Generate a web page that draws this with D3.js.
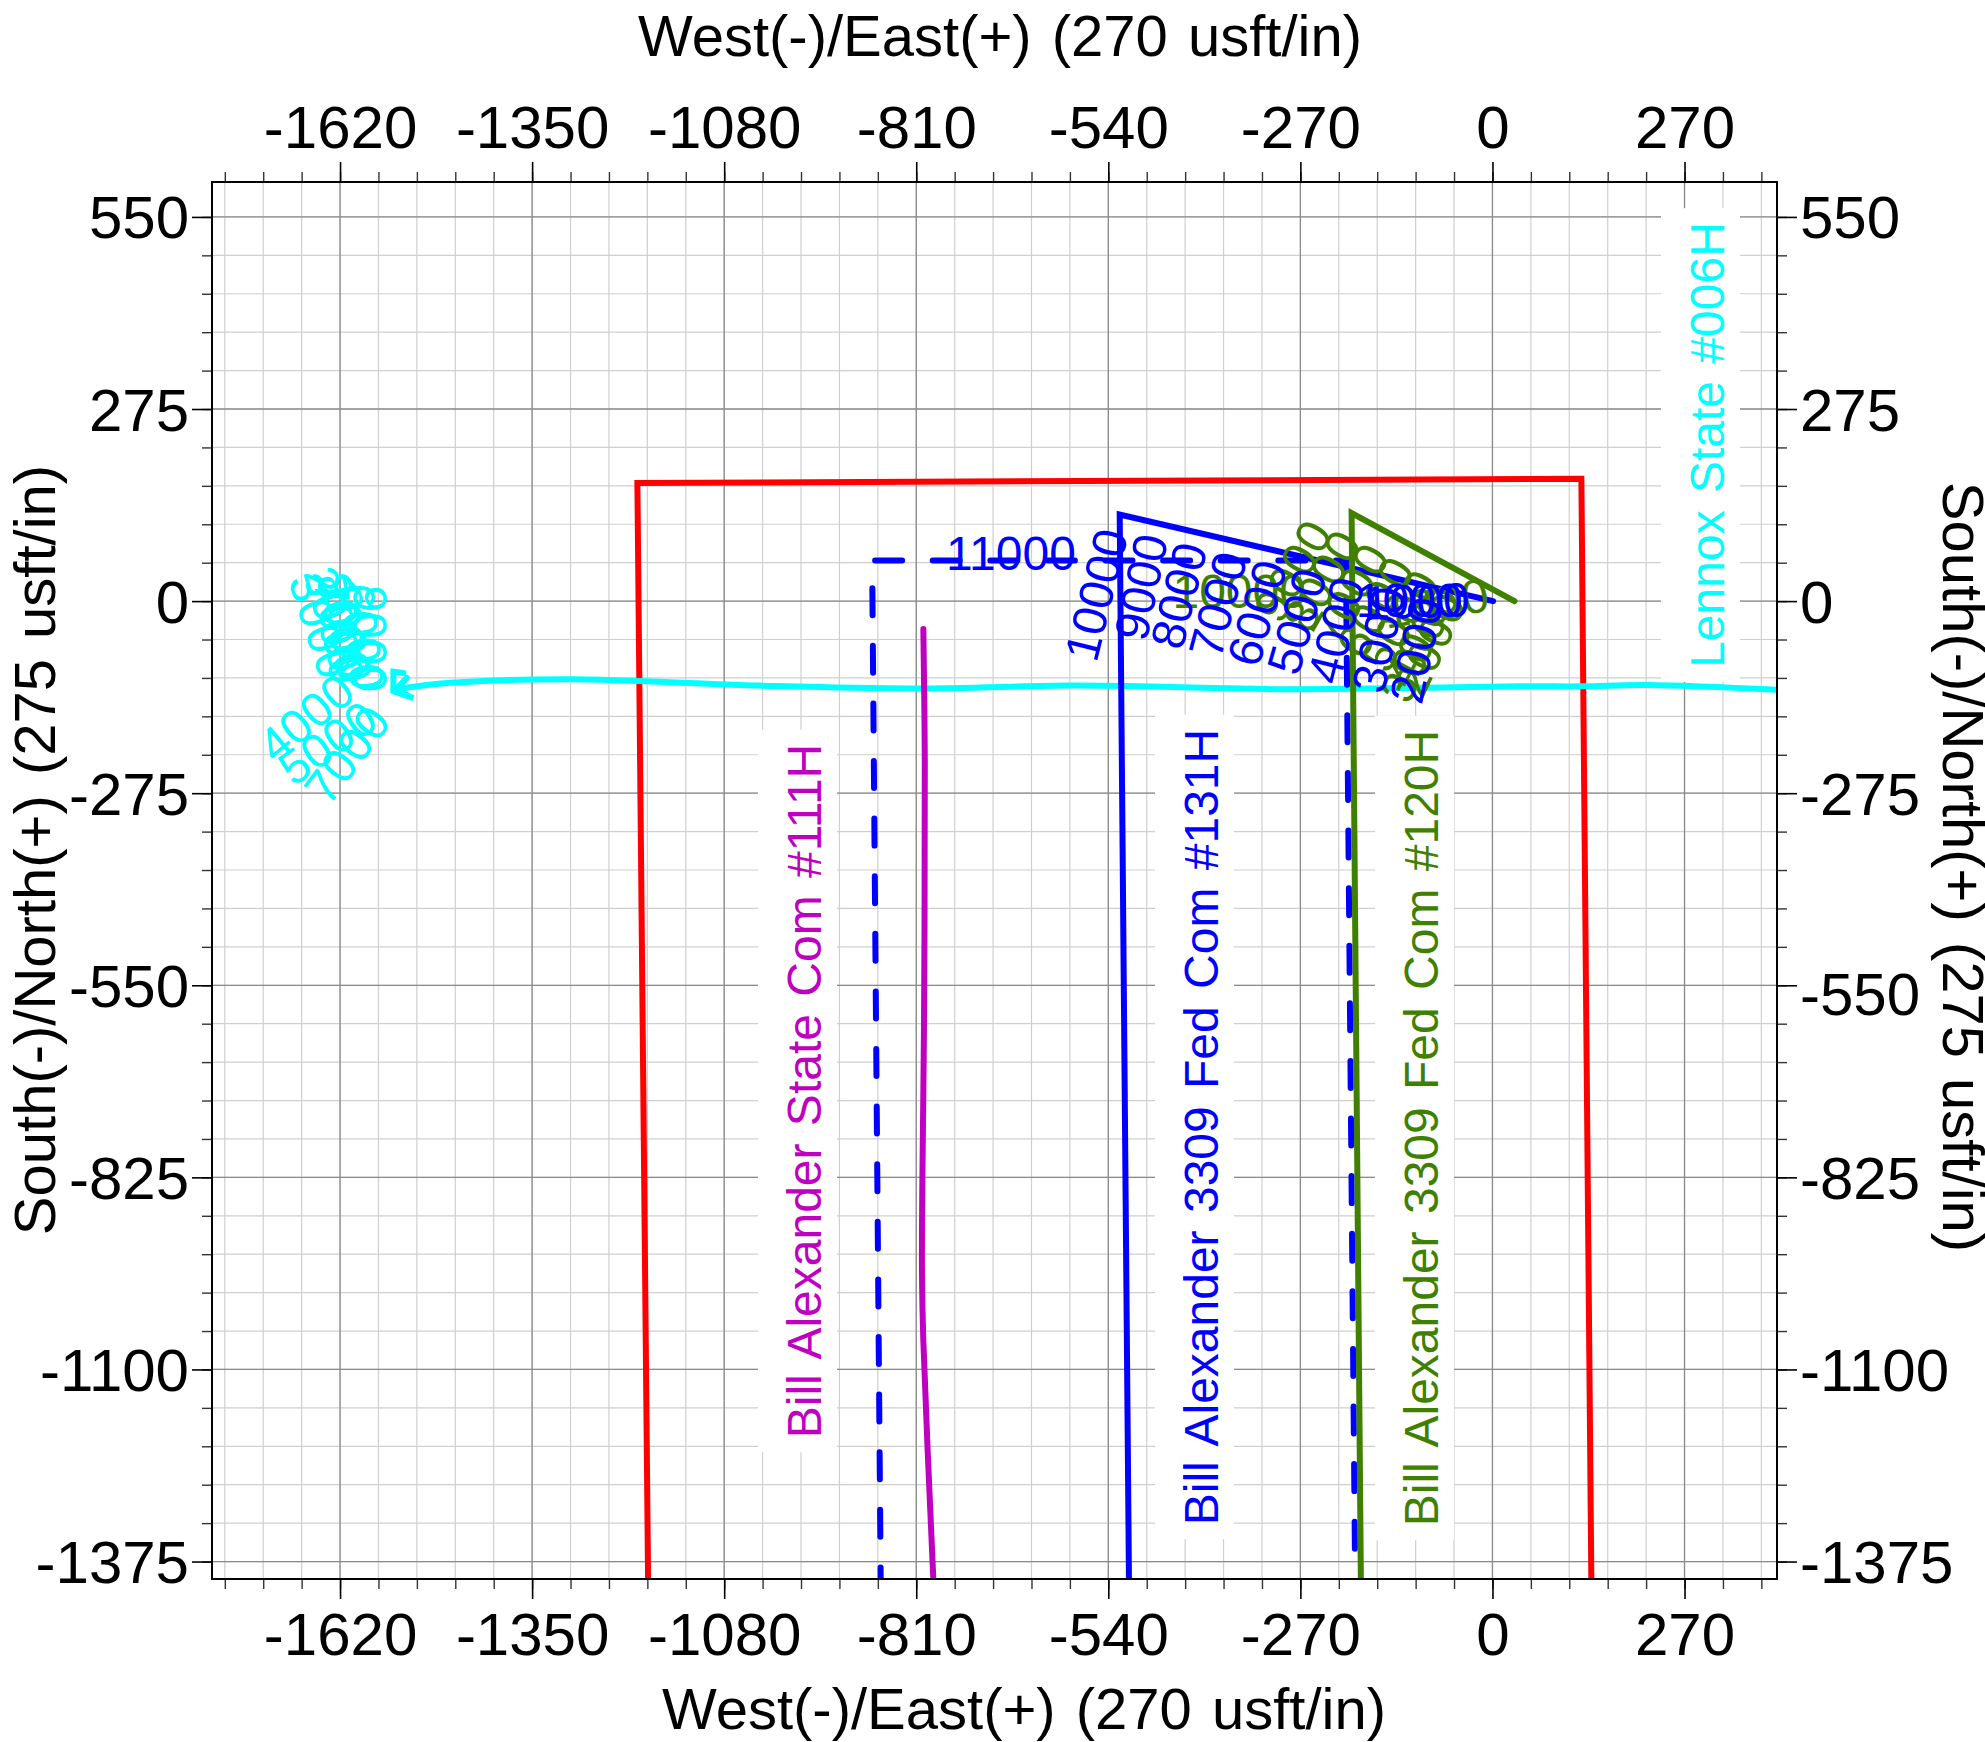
<!DOCTYPE html>
<html>
<head>
<meta charset="utf-8">
<script src="https://cdn.jsdelivr.net/npm/d3@7"></script>
<style>
  body { margin: 0; background: #fff; }
  text { font-family: "Liberation Sans", sans-serif; }
</style>
</head>
<body>
<svg width="1985" height="1742" style="display:block"></svg>
<script>
// axis ticks
const xMajor = [-1620, -1350, -1080, -810, -540, -270, 0, 270];
const yMajor = [550, 275, 0, -275, -550, -825, -1100, -1375];
const xMinor = d3.range(-1782, 400, 54);
const yMinor = d3.range(-1375, 600, 55);

// well paths, [west/east, south/north]
const redPath = [[-1187, -1400], [-1202, 169], [125, 175], [139, -1400]];
const dashedRight = [[-193, -1400], [-206, 58]];
const dashedLeft = [[-206, 58], [-872, 58], [-860, -1400]];
const magentaPath = [[-800, -40], [-798, -227], [-799, -589], [-802, -951], [-800, -1060], [-786, -1400]];
const bluePath = [[1, 0], [-524, 124], [-511, -1400]];
const greenPath = [[31, 0], [-198, 126], [-185, -1400]];
const cyanHook = [[-1531, -103], [-1545, -101], [-1545, -129], [-1517, -139], [-1542, -127], [-1526, -110]];
const cyanLateral = [[-1545, -127], [-1465, -117], [-1297, -112], [-1030, -121], [-816, -125], [-594, -121],
  [-495, -122], [-317, -126], [-224, -126], [39, -122], [126, -122], [216, -120], [400, -127]];

// depth labels: text, x, y, angle
const blueDepths = [["11000", -677, 69, 0], ["10000", -557, 9, -76], ["9000", -494, 20, -78], ["8000", -441, 8, -76],
  ["7000", -386, -5, -75], ["6000", -331, -17, -74], ["5000", -275, -29, -74], ["4000", -220, -42, -76],
  ["3000", -160, -55, -78], ["2000", -107, -70, -78], ["1000", -117, 1, 0], ["1000", -107, 0, -2]];
const greenDepths = [["10000", -356, 14, 0], ["9000", -281, 43, -60], ["8000", -240, 29, -60], ["7000", -200, 10, -60],
  ["6000", -165, -9, -60], ["5000", -130, -28, -60], ["4000", -100, -50, -62], ["3000", -110, -70, -68],
  ["2000", -88, -62, -65], ["1000", -80, -3, -10]];
const cyanDepths = [["9000", -1578, -54, 90], ["6000", -1589, -51, 84], ["1000", -1610, -40, 80], ["2000", -1629, -26, 74],
  ["3000", -1648, -35, 72], ["8000", -1615, -35, 78], ["7000", -1622, -42, 80],
  ["4000", -1668, -167, -40], ["5000", -1638, -203, -35], ["7000", -1610, -220, -53]];

// name, baseline x, middle y, colour
const wellNames = [
  ["Bill Alexander State Com #111H", 821, 1091, "#c000c0"],
  ["Bill Alexander 3309 Fed Com #131H", 1218, 1127, "#0000ff"],
  ["Bill Alexander 3309 Fed Com #120H", 1438, 1128, "#408000"],
  ["Lennox State #006H", 1724, 445, "#00ffff"]
];

const svg = d3.select("svg");
const plotLeft = 212, plotRight = 1777, plotTop = 182, plotBottom = 1579;

const x = d3.scaleLinear().domain([-1800, 400]).range([plotLeft, plotRight]);
const y = d3.scaleLinear().domain([-1400, 600]).range([plotBottom, plotTop]);

// grid
const grid = svg.append("g");
grid.selectAll(".vminor").data(xMinor).enter().append("line")
  .attr("x1", d => x(d)).attr("x2", d => x(d)).attr("y1", plotTop).attr("y2", plotBottom)
  .attr("stroke", "#cfcfcf").attr("stroke-width", 1.2);
grid.selectAll(".hminor").data(yMinor).enter().append("line")
  .attr("x1", plotLeft).attr("x2", plotRight).attr("y1", d => y(d)).attr("y2", d => y(d))
  .attr("stroke", "#cfcfcf").attr("stroke-width", 1.2);
grid.selectAll(".vmajor").data(xMajor).enter().append("line")
  .attr("x1", d => x(d)).attr("x2", d => x(d)).attr("y1", plotTop).attr("y2", plotBottom)
  .attr("stroke", "#8c8c8c").attr("stroke-width", 1.3);
grid.selectAll(".hmajor").data(yMajor).enter().append("line")
  .attr("x1", plotLeft).attr("x2", plotRight).attr("y1", d => y(d)).attr("y2", d => y(d))
  .attr("stroke", "#8c8c8c").attr("stroke-width", 1.3);

// axes
function drawAxis(axisFn, scale, major, minor, tx, ty) {
  svg.append("g").attr("transform", `translate(${tx},${ty})`)
    .call(axisFn(scale).tickValues(minor).tickSize(10).tickFormat(""))
    .call(g => g.select(".domain").remove())
    .selectAll("line").attr("stroke", "#333").attr("stroke-width", 1.4);
  const g = svg.append("g").attr("transform", `translate(${tx},${ty})`)
    .call(axisFn(scale).tickValues(major).tickSize(20).tickPadding(0).tickFormat(d => String(d)));
  g.select(".domain").remove();
  g.selectAll("line").attr("stroke", "#000").attr("stroke-width", 1.6);
  g.selectAll("text").attr("font-size", 60).attr("fill", "#000")
    .attr("font-family", '"Liberation Sans", sans-serif');
  return g;
}
const gBottom = drawAxis(d3.axisBottom, x, xMajor, xMinor, 0, plotBottom);
gBottom.selectAll("text").attr("dy", null).attr("y", 76);
const gTop = drawAxis(d3.axisTop, x, xMajor, xMinor, 0, plotTop);
gTop.selectAll("text").attr("dy", null).attr("y", -34);
const gLeft = drawAxis(d3.axisLeft, y, yMajor, yMinor, plotLeft, 0);
gLeft.selectAll("text").attr("dy", "0.35em").attr("x", -23);
const gRight = drawAxis(d3.axisRight, y, yMajor, yMinor, plotRight, 0);
gRight.selectAll("text").attr("dy", d => d === -550 ? "0.49em" : "0.35em").attr("x", 23);

// well name labels sit on white boxes
const names = svg.append("g");
wellNames.forEach(d => {
  const t = names.append("text").text(d[0])
    .attr("transform", `translate(${d[1]},${d[2]}) rotate(-90)`)
    .attr("text-anchor", "middle").attr("word-spacing", 4)
    .attr("font-size", 48).attr("fill", d[3]);
  const b = t.node().getBBox();
  names.insert("rect", "text")
    .attr("transform", `translate(${d[1]},${d[2]}) rotate(-90)`)
    .attr("x", b.x - 14).attr("y", -63).attr("width", b.width + 28).attr("height", 79)
    .attr("fill", "#fff");
});

// well paths, clipped to the plot box
svg.append("clipPath").attr("id", "plot").append("rect")
  .attr("x", plotLeft).attr("y", plotTop).attr("width", plotRight - plotLeft + 1).attr("height", plotBottom - plotTop);
const lineGen = d3.line().x(d => x(d[0])).y(d => y(d[1]));
const smoothGen = d3.line().x(d => x(d[0])).y(d => y(d[1])).curve(d3.curveCatmullRom);

const paths = svg.append("g").attr("clip-path", "url(#plot)");
function addPath(gen, data, color, dash, offset) {
  paths.append("path").datum(data).attr("d", gen)
    .attr("fill", "none").attr("stroke", color).attr("stroke-width", 6)
    .attr("stroke-linecap", "round").attr("stroke-linejoin", "miter")
    .attr("stroke-dasharray", dash).attr("stroke-dashoffset", offset);
}
addPath(lineGen, redPath, "#ff0000");
addPath(lineGen, cyanHook, "#00ffff");
addPath(smoothGen, cyanLateral, "#00ffff");
addPath(smoothGen, magentaPath, "#c000c0");
addPath(lineGen, dashedRight, "#0000ff", "27 30.6", 27.3);
addPath(lineGen, dashedLeft, "#0000ff", "27 30.6", 17);
addPath(lineGen, bluePath, "#0000ff");
addPath(lineGen, greenPath, "#408000");

// depth labels
function addDepths(data, color) {
  svg.append("g").selectAll("text").data(data).enter().append("text")
    .text(d => d[0])
    .attr("transform", d => `translate(${x(d[1])},${y(d[2])}) rotate(${d[3]})`)
    .attr("text-anchor", "middle").attr("dy", "0.35em")
    .attr("font-size", 48).attr("fill", color);
}
addDepths(greenDepths, "#408000");
addDepths(blueDepths, "#0000ff");
addDepths(cyanDepths, "#00ffff");

// frame
svg.append("rect").attr("x", plotLeft).attr("y", plotTop).attr("width", plotRight - plotLeft).attr("height", plotBottom - plotTop)
  .attr("fill", "none").attr("stroke", "#000").attr("stroke-width", 2);

// axis titles
const titles = [
  ["West(-)/East(+) (270 usft/in)", 1000, 56, 0],
  ["West(-)/East(+) (270 usft/in)", 1024, 1729, 0],
  ["South(-)/North(+) (275 usft/in)", 55, 850, -90],
  ["South(-)/North(+) (275 usft/in)", 1943, 867, 90]
];
svg.append("g").selectAll("text").data(titles).enter().append("text")
  .text(d => d[0])
  .attr("transform", d => `translate(${d[1]},${d[2]}) rotate(${d[3]})`)
  .attr("text-anchor", "middle").attr("word-spacing", 4).attr("font-size", 58).attr("fill", "#000");
</script>
</body>
</html>
